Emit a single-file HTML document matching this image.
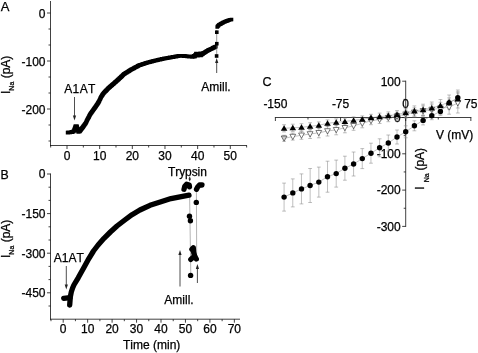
<!DOCTYPE html>
<html><head><meta charset="utf-8"><title>Figure</title>
<style>
html,body{margin:0;padding:0;background:#fff;}
svg{display:block;font-family:"Liberation Sans", sans-serif;fill:#000;font-kerning:none;}
text{stroke:#000;stroke-width:0.25px;}
</style></head><body>
<svg width="478" height="353" viewBox="0 0 478 353">
<rect width="478" height="353" fill="#fff" stroke="none"/>
<line x1="50.5" y1="1" x2="50.5" y2="146.0" stroke="#111" stroke-width="0.8" />
<line x1="50.0" y1="145.5" x2="247" y2="145.5" stroke="#111" stroke-width="0.8" />
<line x1="47.0" y1="13.0" x2="50.5" y2="13.0" stroke="#111" stroke-width="0.8" />
<text x="45.5" y="17.8" font-size="12" text-anchor="end" >0</text>
<line x1="47.0" y1="61.0" x2="50.5" y2="61.0" stroke="#111" stroke-width="0.8" />
<text x="45.5" y="65.8" font-size="12" text-anchor="end" >-100</text>
<line x1="47.0" y1="109.0" x2="50.5" y2="109.0" stroke="#111" stroke-width="0.8" />
<text x="45.5" y="113.8" font-size="12" text-anchor="end" >-200</text>
<line x1="48.5" y1="29" x2="50.5" y2="29" stroke="#111" stroke-width="0.8" />
<line x1="48.5" y1="45" x2="50.5" y2="45" stroke="#111" stroke-width="0.8" />
<line x1="48.5" y1="77" x2="50.5" y2="77" stroke="#111" stroke-width="0.8" />
<line x1="48.5" y1="93" x2="50.5" y2="93" stroke="#111" stroke-width="0.8" />
<line x1="48.5" y1="125" x2="50.5" y2="125" stroke="#111" stroke-width="0.8" />
<line x1="48.5" y1="141" x2="50.5" y2="141" stroke="#111" stroke-width="0.8" />
<line x1="67.0" y1="145.5" x2="67.0" y2="149.0" stroke="#111" stroke-width="0.8" />
<text x="67.0" y="160.0" font-size="12" text-anchor="middle" >0</text>
<line x1="99.66" y1="145.5" x2="99.66" y2="149.0" stroke="#111" stroke-width="0.8" />
<text x="99.66" y="160.0" font-size="12" text-anchor="middle" >10</text>
<line x1="132.32" y1="145.5" x2="132.32" y2="149.0" stroke="#111" stroke-width="0.8" />
<text x="132.32" y="160.0" font-size="12" text-anchor="middle" >20</text>
<line x1="164.98000000000002" y1="145.5" x2="164.98000000000002" y2="149.0" stroke="#111" stroke-width="0.8" />
<text x="164.98000000000002" y="160.0" font-size="12" text-anchor="middle" >30</text>
<line x1="197.64" y1="145.5" x2="197.64" y2="149.0" stroke="#111" stroke-width="0.8" />
<text x="197.64" y="160.0" font-size="12" text-anchor="middle" >40</text>
<line x1="230.3" y1="145.5" x2="230.3" y2="149.0" stroke="#111" stroke-width="0.8" />
<text x="230.3" y="160.0" font-size="12" text-anchor="middle" >50</text>
<line x1="50.67" y1="145.5" x2="50.67" y2="147.5" stroke="#111" stroke-width="0.8" />
<line x1="83.33" y1="145.5" x2="83.33" y2="147.5" stroke="#111" stroke-width="0.8" />
<line x1="115.99000000000001" y1="145.5" x2="115.99000000000001" y2="147.5" stroke="#111" stroke-width="0.8" />
<line x1="148.65" y1="145.5" x2="148.65" y2="147.5" stroke="#111" stroke-width="0.8" />
<line x1="181.31" y1="145.5" x2="181.31" y2="147.5" stroke="#111" stroke-width="0.8" />
<line x1="213.97" y1="145.5" x2="213.97" y2="147.5" stroke="#111" stroke-width="0.8" />
<line x1="246.63" y1="145.5" x2="246.63" y2="147.5" stroke="#111" stroke-width="0.8" />
<text x="0.8" y="10.6" font-size="13" text-anchor="start" >A</text>
<text transform="translate(10,94) rotate(-90)" font-size="12">I<tspan font-size="7" dy="3.5">Na</tspan><tspan dy="-3.5" font-size="12"> (pA)</tspan></text>
<path d="M65.8 130.7h3.8v3.8h-3.8zM66.4 130.6h3.8v3.8h-3.8zM67.0 130.5h3.8v3.8h-3.8zM67.6 130.4h3.8v3.8h-3.8zM68.3 130.4h3.8v3.8h-3.8zM68.9 130.3h3.8v3.8h-3.8zM69.5 130.2h3.8v3.8h-3.8zM70.1 130.1h3.8v3.8h-3.8zM70.1 130.1h3.8v3.8h-3.8zM70.7 129.9h3.8v3.8h-3.8zM71.3 129.6h3.8v3.8h-3.8zM71.9 129.4h3.8v3.8h-3.8zM71.9 129.4h3.8v3.8h-3.8zM72.1 128.8h3.8v3.8h-3.8zM72.3 128.1h3.8v3.8h-3.8zM72.5 127.5h3.8v3.8h-3.8zM72.8 126.8h3.8v3.8h-3.8zM73.0 126.2h3.8v3.8h-3.8zM73.2 125.6h3.8v3.8h-3.8zM73.4 124.9h3.8v3.8h-3.8zM73.6 124.3h3.8v3.8h-3.8zM73.6 124.3h3.8v3.8h-3.8zM74.2 124.3h3.8v3.8h-3.8zM74.9 124.3h3.8v3.8h-3.8zM74.9 124.3h3.8v3.8h-3.8zM75.1 124.9h3.8v3.8h-3.8zM75.2 125.5h3.8v3.8h-3.8zM75.4 126.2h3.8v3.8h-3.8zM75.6 126.8h3.8v3.8h-3.8zM75.7 127.4h3.8v3.8h-3.8zM75.9 128.0h3.8v3.8h-3.8zM76.1 128.7h3.8v3.8h-3.8zM76.2 129.3h3.8v3.8h-3.8zM76.4 129.9h3.8v3.8h-3.8zM76.4 129.9h3.8v3.8h-3.8zM77.0 129.8h3.8v3.8h-3.8zM77.6 129.6h3.8v3.8h-3.8zM77.6 129.6h3.8v3.8h-3.8zM78.0 129.1h3.8v3.8h-3.8zM78.4 128.6h3.8v3.8h-3.8zM78.8 128.1h3.8v3.8h-3.8zM79.1 127.6h3.8v3.8h-3.8zM79.5 127.1h3.8v3.8h-3.8zM79.9 126.6h3.8v3.8h-3.8zM80.3 126.1h3.8v3.8h-3.8zM80.7 125.6h3.8v3.8h-3.8zM80.7 125.6h3.8v3.8h-3.8zM81.1 125.1h3.8v3.8h-3.8zM81.4 124.6h3.8v3.8h-3.8zM81.8 124.1h3.8v3.8h-3.8zM82.2 123.5h3.8v3.8h-3.8zM82.6 123.0h3.8v3.8h-3.8zM82.9 122.5h3.8v3.8h-3.8zM83.3 122.0h3.8v3.8h-3.8zM83.7 121.5h3.8v3.8h-3.8zM83.7 121.5h3.8v3.8h-3.8zM84.0 120.9h3.8v3.8h-3.8zM84.3 120.3h3.8v3.8h-3.8zM84.6 119.7h3.8v3.8h-3.8zM84.8 119.1h3.8v3.8h-3.8zM85.1 118.5h3.8v3.8h-3.8zM85.4 117.9h3.8v3.8h-3.8zM85.7 117.3h3.8v3.8h-3.8zM85.7 117.3h3.8v3.8h-3.8zM86.0 116.8h3.8v3.8h-3.8zM86.3 116.2h3.8v3.8h-3.8zM86.6 115.7h3.8v3.8h-3.8zM86.9 115.2h3.8v3.8h-3.8zM87.2 114.6h3.8v3.8h-3.8zM87.4 114.1h3.8v3.8h-3.8zM87.7 113.5h3.8v3.8h-3.8zM88.0 113.0h3.8v3.8h-3.8zM88.3 112.5h3.8v3.8h-3.8zM88.6 111.9h3.8v3.8h-3.8zM88.9 111.4h3.8v3.8h-3.8zM88.9 111.4h3.8v3.8h-3.8zM89.3 110.9h3.8v3.8h-3.8zM89.7 110.4h3.8v3.8h-3.8zM90.0 109.9h3.8v3.8h-3.8zM90.4 109.4h3.8v3.8h-3.8zM90.8 108.9h3.8v3.8h-3.8zM91.2 108.3h3.8v3.8h-3.8zM91.6 107.8h3.8v3.8h-3.8zM92.0 107.3h3.8v3.8h-3.8zM92.3 106.8h3.8v3.8h-3.8zM92.7 106.3h3.8v3.8h-3.8zM93.1 105.8h3.8v3.8h-3.8zM93.1 105.8h3.8v3.8h-3.8zM93.4 105.3h3.8v3.8h-3.8zM93.8 104.8h3.8v3.8h-3.8zM94.1 104.2h3.8v3.8h-3.8zM94.4 103.7h3.8v3.8h-3.8zM94.8 103.2h3.8v3.8h-3.8zM95.1 102.7h3.8v3.8h-3.8zM95.5 102.2h3.8v3.8h-3.8zM95.8 101.7h3.8v3.8h-3.8zM96.1 101.1h3.8v3.8h-3.8zM96.5 100.6h3.8v3.8h-3.8zM96.8 100.1h3.8v3.8h-3.8zM96.8 100.1h3.8v3.8h-3.8zM97.1 99.5h3.8v3.8h-3.8zM97.4 98.9h3.8v3.8h-3.8zM97.6 98.4h3.8v3.8h-3.8zM97.9 97.8h3.8v3.8h-3.8zM98.2 97.2h3.8v3.8h-3.8zM98.5 96.6h3.8v3.8h-3.8zM98.7 96.1h3.8v3.8h-3.8zM99.0 95.5h3.8v3.8h-3.8zM99.3 94.9h3.8v3.8h-3.8zM99.3 94.9h3.8v3.8h-3.8zM99.7 94.3h3.8v3.8h-3.8zM100.1 93.7h3.8v3.8h-3.8zM100.4 93.1h3.8v3.8h-3.8zM100.8 92.6h3.8v3.8h-3.8zM101.2 92.0h3.8v3.8h-3.8zM101.6 91.4h3.8v3.8h-3.8zM101.6 91.4h3.8v3.8h-3.8zM102.0 90.9h3.8v3.8h-3.8zM102.5 90.5h3.8v3.8h-3.8zM102.9 90.0h3.8v3.8h-3.8zM103.4 89.5h3.8v3.8h-3.8zM103.8 89.1h3.8v3.8h-3.8zM104.3 88.6h3.8v3.8h-3.8zM104.7 88.2h3.8v3.8h-3.8zM105.2 87.7h3.8v3.8h-3.8zM105.6 87.2h3.8v3.8h-3.8zM106.1 86.8h3.8v3.8h-3.8zM106.5 86.3h3.8v3.8h-3.8zM106.5 86.3h3.8v3.8h-3.8zM107.0 85.9h3.8v3.8h-3.8zM107.4 85.5h3.8v3.8h-3.8zM107.9 85.1h3.8v3.8h-3.8zM108.3 84.7h3.8v3.8h-3.8zM108.8 84.3h3.8v3.8h-3.8zM109.3 83.9h3.8v3.8h-3.8zM109.7 83.5h3.8v3.8h-3.8zM110.2 83.1h3.8v3.8h-3.8zM110.6 82.7h3.8v3.8h-3.8zM111.1 82.3h3.8v3.8h-3.8zM111.1 82.3h3.8v3.8h-3.8zM111.6 81.9h3.8v3.8h-3.8zM112.1 81.4h3.8v3.8h-3.8zM112.6 81.0h3.8v3.8h-3.8zM113.1 80.5h3.8v3.8h-3.8zM113.6 80.1h3.8v3.8h-3.8zM114.1 79.7h3.8v3.8h-3.8zM114.6 79.2h3.8v3.8h-3.8zM115.1 78.8h3.8v3.8h-3.8zM115.1 78.8h3.8v3.8h-3.8zM115.5 78.4h3.8v3.8h-3.8zM116.0 78.0h3.8v3.8h-3.8zM116.4 77.6h3.8v3.8h-3.8zM116.9 77.2h3.8v3.8h-3.8zM117.3 76.7h3.8v3.8h-3.8zM117.8 76.3h3.8v3.8h-3.8zM118.2 75.9h3.8v3.8h-3.8zM118.7 75.5h3.8v3.8h-3.8zM119.1 75.1h3.8v3.8h-3.8zM119.1 75.1h3.8v3.8h-3.8zM119.6 74.6h3.8v3.8h-3.8zM120.1 74.2h3.8v3.8h-3.8zM120.5 73.7h3.8v3.8h-3.8zM121.0 73.2h3.8v3.8h-3.8zM121.5 72.8h3.8v3.8h-3.8zM122.0 72.3h3.8v3.8h-3.8zM122.0 72.3h3.8v3.8h-3.8zM122.5 72.0h3.8v3.8h-3.8zM123.0 71.7h3.8v3.8h-3.8zM123.5 71.3h3.8v3.8h-3.8zM124.0 71.0h3.8v3.8h-3.8zM124.5 70.7h3.8v3.8h-3.8zM125.0 70.4h3.8v3.8h-3.8zM125.6 70.0h3.8v3.8h-3.8zM126.1 69.7h3.8v3.8h-3.8zM126.6 69.4h3.8v3.8h-3.8zM127.1 69.1h3.8v3.8h-3.8zM127.6 68.7h3.8v3.8h-3.8zM128.1 68.4h3.8v3.8h-3.8zM128.6 68.1h3.8v3.8h-3.8zM128.6 68.1h3.8v3.8h-3.8zM129.1 67.8h3.8v3.8h-3.8zM129.7 67.5h3.8v3.8h-3.8zM130.2 67.2h3.8v3.8h-3.8zM130.7 66.9h3.8v3.8h-3.8zM131.3 66.7h3.8v3.8h-3.8zM131.8 66.4h3.8v3.8h-3.8zM132.3 66.1h3.8v3.8h-3.8zM132.8 65.8h3.8v3.8h-3.8zM133.4 65.5h3.8v3.8h-3.8zM133.9 65.2h3.8v3.8h-3.8zM134.4 64.9h3.8v3.8h-3.8zM135.0 64.7h3.8v3.8h-3.8zM135.5 64.4h3.8v3.8h-3.8zM136.0 64.1h3.8v3.8h-3.8zM136.6 63.8h3.8v3.8h-3.8zM137.1 63.5h3.8v3.8h-3.8zM137.1 63.5h3.8v3.8h-3.8zM137.7 63.3h3.8v3.8h-3.8zM138.3 63.1h3.8v3.8h-3.8zM138.9 62.9h3.8v3.8h-3.8zM139.5 62.7h3.8v3.8h-3.8zM140.1 62.5h3.8v3.8h-3.8zM140.7 62.3h3.8v3.8h-3.8zM141.3 62.1h3.8v3.8h-3.8zM141.9 61.9h3.8v3.8h-3.8zM142.5 61.7h3.8v3.8h-3.8zM143.1 61.5h3.8v3.8h-3.8zM143.7 61.3h3.8v3.8h-3.8zM144.3 61.1h3.8v3.8h-3.8zM144.9 60.9h3.8v3.8h-3.8zM145.5 60.7h3.8v3.8h-3.8zM145.5 60.7h3.8v3.8h-3.8zM146.1 60.5h3.8v3.8h-3.8zM146.7 60.4h3.8v3.8h-3.8zM147.3 60.2h3.8v3.8h-3.8zM148.0 60.1h3.8v3.8h-3.8zM148.6 59.9h3.8v3.8h-3.8zM149.2 59.8h3.8v3.8h-3.8zM149.8 59.6h3.8v3.8h-3.8zM150.4 59.4h3.8v3.8h-3.8zM151.0 59.3h3.8v3.8h-3.8zM151.6 59.1h3.8v3.8h-3.8zM152.3 59.0h3.8v3.8h-3.8zM152.9 58.8h3.8v3.8h-3.8zM153.5 58.7h3.8v3.8h-3.8zM154.1 58.5h3.8v3.8h-3.8zM154.1 58.5h3.8v3.8h-3.8zM154.7 58.4h3.8v3.8h-3.8zM155.3 58.2h3.8v3.8h-3.8zM155.9 58.1h3.8v3.8h-3.8zM156.5 58.0h3.8v3.8h-3.8zM157.1 57.8h3.8v3.8h-3.8zM157.7 57.7h3.8v3.8h-3.8zM158.3 57.6h3.8v3.8h-3.8zM158.9 57.4h3.8v3.8h-3.8zM159.5 57.3h3.8v3.8h-3.8zM160.1 57.1h3.8v3.8h-3.8zM160.7 57.0h3.8v3.8h-3.8zM161.3 56.9h3.8v3.8h-3.8zM161.9 56.7h3.8v3.8h-3.8zM162.5 56.6h3.8v3.8h-3.8zM162.5 56.6h3.8v3.8h-3.8zM163.1 56.5h3.8v3.8h-3.8zM163.7 56.4h3.8v3.8h-3.8zM164.3 56.3h3.8v3.8h-3.8zM165.0 56.2h3.8v3.8h-3.8zM165.6 56.1h3.8v3.8h-3.8zM166.2 56.0h3.8v3.8h-3.8zM166.8 55.9h3.8v3.8h-3.8zM167.4 55.7h3.8v3.8h-3.8zM168.0 55.6h3.8v3.8h-3.8zM168.6 55.5h3.8v3.8h-3.8zM169.3 55.4h3.8v3.8h-3.8zM169.9 55.3h3.8v3.8h-3.8zM170.5 55.2h3.8v3.8h-3.8zM171.1 55.1h3.8v3.8h-3.8zM171.1 55.1h3.8v3.8h-3.8zM171.7 55.0h3.8v3.8h-3.8zM172.3 54.9h3.8v3.8h-3.8zM172.9 54.8h3.8v3.8h-3.8zM173.5 54.7h3.8v3.8h-3.8zM174.1 54.6h3.8v3.8h-3.8zM174.8 54.4h3.8v3.8h-3.8zM175.4 54.3h3.8v3.8h-3.8zM176.0 54.2h3.8v3.8h-3.8zM176.6 54.1h3.8v3.8h-3.8zM177.2 54.0h3.8v3.8h-3.8zM177.8 53.9h3.8v3.8h-3.8zM177.8 53.9h3.8v3.8h-3.8zM178.4 53.9h3.8v3.8h-3.8zM179.1 53.9h3.8v3.8h-3.8zM179.7 54.0h3.8v3.8h-3.8zM180.3 54.0h3.8v3.8h-3.8zM181.0 54.0h3.8v3.8h-3.8zM181.6 54.1h3.8v3.8h-3.8zM182.3 54.1h3.8v3.8h-3.8zM182.9 54.1h3.8v3.8h-3.8zM182.9 54.1h3.8v3.8h-3.8zM183.5 54.2h3.8v3.8h-3.8zM184.1 54.2h3.8v3.8h-3.8zM184.7 54.3h3.8v3.8h-3.8zM185.3 54.4h3.8v3.8h-3.8zM185.9 54.4h3.8v3.8h-3.8zM186.5 54.5h3.8v3.8h-3.8zM187.1 54.6h3.8v3.8h-3.8zM187.7 54.6h3.8v3.8h-3.8zM188.3 54.7h3.8v3.8h-3.8zM188.9 54.8h3.8v3.8h-3.8zM189.5 54.8h3.8v3.8h-3.8zM190.1 54.9h3.8v3.8h-3.8zM190.1 54.9h3.8v3.8h-3.8zM190.7 54.6h3.8v3.8h-3.8zM191.3 54.4h3.8v3.8h-3.8zM191.9 54.1h3.8v3.8h-3.8zM192.5 53.9h3.8v3.8h-3.8zM193.1 53.6h3.8v3.8h-3.8zM193.1 53.6h3.8v3.8h-3.8zM193.6 53.2h3.8v3.8h-3.8zM194.1 52.9h3.8v3.8h-3.8zM194.6 52.5h3.8v3.8h-3.8zM195.1 52.1h3.8v3.8h-3.8zM195.1 52.1h3.8v3.8h-3.8zM195.7 52.1h3.8v3.8h-3.8zM196.3 52.1h3.8v3.8h-3.8zM197.0 52.2h3.8v3.8h-3.8zM197.6 52.2h3.8v3.8h-3.8zM198.2 52.2h3.8v3.8h-3.8zM198.8 52.3h3.8v3.8h-3.8zM199.5 52.3h3.8v3.8h-3.8zM200.1 52.3h3.8v3.8h-3.8zM200.1 52.3h3.8v3.8h-3.8zM200.6 52.0h3.8v3.8h-3.8zM201.2 51.6h3.8v3.8h-3.8zM201.7 51.3h3.8v3.8h-3.8zM202.2 50.9h3.8v3.8h-3.8zM202.8 50.6h3.8v3.8h-3.8zM203.3 50.3h3.8v3.8h-3.8zM203.8 49.9h3.8v3.8h-3.8zM204.3 49.6h3.8v3.8h-3.8zM204.9 49.2h3.8v3.8h-3.8zM205.4 48.9h3.8v3.8h-3.8zM205.4 48.9h3.8v3.8h-3.8zM206.0 48.6h3.8v3.8h-3.8zM206.5 48.3h3.8v3.8h-3.8zM207.1 48.1h3.8v3.8h-3.8zM207.7 47.8h3.8v3.8h-3.8zM208.2 47.5h3.8v3.8h-3.8zM208.8 47.2h3.8v3.8h-3.8zM209.4 47.0h3.8v3.8h-3.8zM209.9 46.7h3.8v3.8h-3.8zM210.5 46.4h3.8v3.8h-3.8zM210.5 46.4h3.8v3.8h-3.8zM211.0 46.1h3.8v3.8h-3.8zM211.6 45.8h3.8v3.8h-3.8zM212.2 45.6h3.8v3.8h-3.8zM212.7 45.3h3.8v3.8h-3.8zM213.2 45.0h3.8v3.8h-3.8zM213.8 44.7h3.8v3.8h-3.8z" fill="#000"/>
<path d="M193.0 54.8h3.6v3.6h-3.6zM193.2 54.2h3.6v3.6h-3.6zM193.5 53.6h3.6v3.6h-3.6zM193.7 53.0h3.6v3.6h-3.6zM194.0 52.4h3.6v3.6h-3.6zM194.2 51.8h3.6v3.6h-3.6zM194.2 51.8h3.6v3.6h-3.6zM194.7 52.4h3.6v3.6h-3.6zM195.2 52.9h3.6v3.6h-3.6zM195.7 53.5h3.6v3.6h-3.6zM196.2 54.0h3.6v3.6h-3.6zM196.2 54.0h3.6v3.6h-3.6zM196.6 53.5h3.6v3.6h-3.6zM197.0 53.0h3.6v3.6h-3.6zM197.4 52.6h3.6v3.6h-3.6zM197.8 52.1h3.6v3.6h-3.6zM198.2 51.6h3.6v3.6h-3.6zM198.2 51.6h3.6v3.6h-3.6zM198.5 52.3h3.6v3.6h-3.6zM198.9 53.0h3.6v3.6h-3.6zM199.2 53.7h3.6v3.6h-3.6zM199.2 53.7h3.6v3.6h-3.6zM199.6 53.2h3.6v3.6h-3.6zM200.0 52.8h3.6v3.6h-3.6zM200.4 52.4h3.6v3.6h-3.6zM200.9 51.9h3.6v3.6h-3.6zM201.3 51.5h3.6v3.6h-3.6zM201.7 51.0h3.6v3.6h-3.6z" fill="#000"/>
<line x1="216.7" y1="30" x2="216.7" y2="57" stroke="#555" stroke-width="0.6" />
<rect x="215.0" y="41.900000000000006" width="3.6" height="3.6" fill="#000"/>
<rect x="215.0" y="30.400000000000002" width="3.6" height="3.6" fill="#000"/>
<rect x="214.79999999999998" y="54.2" width="3.6" height="3.6" fill="#000"/>
<path d="M215.4 25.2h3.6v3.6h-3.6zM215.8 24.6h3.6v3.6h-3.6zM216.3 24.1h3.6v3.6h-3.6zM216.8 23.6h3.6v3.6h-3.6zM217.2 23.0h3.6v3.6h-3.6zM217.2 23.0h3.6v3.6h-3.6zM217.8 22.7h3.6v3.6h-3.6zM218.4 22.4h3.6v3.6h-3.6zM218.9 22.1h3.6v3.6h-3.6zM219.5 21.8h3.6v3.6h-3.6zM220.1 21.4h3.6v3.6h-3.6zM220.7 21.1h3.6v3.6h-3.6zM221.2 20.8h3.6v3.6h-3.6zM221.8 20.5h3.6v3.6h-3.6zM222.4 20.2h3.6v3.6h-3.6zM222.4 20.2h3.6v3.6h-3.6zM223.0 20.0h3.6v3.6h-3.6zM223.5 19.8h3.6v3.6h-3.6zM224.1 19.5h3.6v3.6h-3.6zM224.7 19.3h3.6v3.6h-3.6zM225.2 19.1h3.6v3.6h-3.6zM225.8 18.9h3.6v3.6h-3.6zM226.4 18.6h3.6v3.6h-3.6zM226.9 18.4h3.6v3.6h-3.6zM227.5 18.2h3.6v3.6h-3.6zM227.5 18.2h3.6v3.6h-3.6zM228.2 18.0h3.6v3.6h-3.6zM229.0 17.9h3.6v3.6h-3.6zM229.7 17.7h3.6v3.6h-3.6z" fill="#000"/>
<text x="64.2" y="92.7" font-size="12" text-anchor="start" letter-spacing="0.4">A1AT</text>
<line x1="74.5" y1="97" x2="74.5" y2="117.5" stroke="#222" stroke-width="0.8" />
<polygon points="74.5,120.5 72.9,115.5 76.1,115.5" fill="#222"/>
<line x1="216.7" y1="73" x2="216.7" y2="61.0" stroke="#222" stroke-width="0.8" />
<polygon points="216.7,58 215.1,63 218.29999999999998,63" fill="#222"/>
<text x="201.3" y="90.6" font-size="12" text-anchor="start" >Amill.</text>
<line x1="50.5" y1="173.5" x2="50.5" y2="319.7" stroke="#111" stroke-width="0.8" />
<line x1="50.0" y1="319.2" x2="240" y2="319.2" stroke="#111" stroke-width="0.8" />
<line x1="47.0" y1="174.0" x2="50.5" y2="174.0" stroke="#111" stroke-width="0.8" />
<text x="45.5" y="178.3" font-size="12" text-anchor="end" >0</text>
<line x1="47.0" y1="213.6" x2="50.5" y2="213.6" stroke="#111" stroke-width="0.8" />
<text x="45.5" y="217.9" font-size="12" text-anchor="end" >-150</text>
<line x1="47.0" y1="253.2" x2="50.5" y2="253.2" stroke="#111" stroke-width="0.8" />
<text x="45.5" y="257.5" font-size="12" text-anchor="end" >-300</text>
<line x1="47.0" y1="292.8" x2="50.5" y2="292.8" stroke="#111" stroke-width="0.8" />
<text x="45.5" y="297.1" font-size="12" text-anchor="end" >-450</text>
<line x1="48.5" y1="187.2" x2="50.5" y2="187.2" stroke="#111" stroke-width="0.8" />
<line x1="48.5" y1="200.4" x2="50.5" y2="200.4" stroke="#111" stroke-width="0.8" />
<line x1="48.5" y1="226.8" x2="50.5" y2="226.8" stroke="#111" stroke-width="0.8" />
<line x1="48.5" y1="240.0" x2="50.5" y2="240.0" stroke="#111" stroke-width="0.8" />
<line x1="48.5" y1="266.4" x2="50.5" y2="266.4" stroke="#111" stroke-width="0.8" />
<line x1="48.5" y1="279.6" x2="50.5" y2="279.6" stroke="#111" stroke-width="0.8" />
<line x1="48.5" y1="306.0" x2="50.5" y2="306.0" stroke="#111" stroke-width="0.8" />
<line x1="63.2" y1="319.2" x2="63.2" y2="322.7" stroke="#111" stroke-width="0.8" />
<text x="63.2" y="333.2" font-size="12" text-anchor="middle" >0</text>
<line x1="87.65" y1="319.2" x2="87.65" y2="322.7" stroke="#111" stroke-width="0.8" />
<text x="87.65" y="333.2" font-size="12" text-anchor="middle" >10</text>
<line x1="112.1" y1="319.2" x2="112.1" y2="322.7" stroke="#111" stroke-width="0.8" />
<text x="112.1" y="333.2" font-size="12" text-anchor="middle" >20</text>
<line x1="136.55" y1="319.2" x2="136.55" y2="322.7" stroke="#111" stroke-width="0.8" />
<text x="136.55" y="333.2" font-size="12" text-anchor="middle" >30</text>
<line x1="161.0" y1="319.2" x2="161.0" y2="322.7" stroke="#111" stroke-width="0.8" />
<text x="161.0" y="333.2" font-size="12" text-anchor="middle" >40</text>
<line x1="185.45" y1="319.2" x2="185.45" y2="322.7" stroke="#111" stroke-width="0.8" />
<text x="185.45" y="333.2" font-size="12" text-anchor="middle" >50</text>
<line x1="209.89999999999998" y1="319.2" x2="209.89999999999998" y2="322.7" stroke="#111" stroke-width="0.8" />
<text x="209.89999999999998" y="333.2" font-size="12" text-anchor="middle" >60</text>
<line x1="234.34999999999997" y1="319.2" x2="234.34999999999997" y2="322.7" stroke="#111" stroke-width="0.8" />
<text x="234.34999999999997" y="333.2" font-size="12" text-anchor="middle" >70</text>
<line x1="50.975" y1="319.2" x2="50.975" y2="321.2" stroke="#111" stroke-width="0.8" />
<line x1="75.425" y1="319.2" x2="75.425" y2="321.2" stroke="#111" stroke-width="0.8" />
<line x1="99.875" y1="319.2" x2="99.875" y2="321.2" stroke="#111" stroke-width="0.8" />
<line x1="124.32499999999999" y1="319.2" x2="124.32499999999999" y2="321.2" stroke="#111" stroke-width="0.8" />
<line x1="148.77499999999998" y1="319.2" x2="148.77499999999998" y2="321.2" stroke="#111" stroke-width="0.8" />
<line x1="173.225" y1="319.2" x2="173.225" y2="321.2" stroke="#111" stroke-width="0.8" />
<line x1="197.675" y1="319.2" x2="197.675" y2="321.2" stroke="#111" stroke-width="0.8" />
<line x1="222.125" y1="319.2" x2="222.125" y2="321.2" stroke="#111" stroke-width="0.8" />
<text x="0.6" y="179.4" font-size="12.3" text-anchor="start" >B</text>
<text transform="translate(10,258) rotate(-90)" font-size="12">I<tspan font-size="7" dy="3.5">Na</tspan><tspan dy="-3.5" font-size="12"> (pA)</tspan></text>
<text x="123" y="349" font-size="12" text-anchor="start" >Time (min)</text>
<line x1="189.6" y1="195" x2="190.8" y2="276" stroke="#444" stroke-width="0.4" />
<line x1="196.4" y1="188" x2="196.7" y2="260" stroke="#444" stroke-width="0.4" />
<polyline points="63.7,298.3 70.0,297.6" fill="none" stroke="#000" stroke-width="5.3" stroke-linecap="round" stroke-linejoin="round"/>
<polyline points="69.7,305.0 70.3,297.0 71.3,292.0 72.6,288.0 73.9,285.0 78.2,277.8 84.2,267.0 89.0,258.3 93.5,251.0 98.1,245.0 104.0,238.3 110.4,232.0 117.0,226.0 124.8,220.0 132.0,214.7 139.9,210.0 150.0,205.3 161.0,201.8 171.0,198.6 180.0,196.8 189.0,195.2" fill="none" stroke="#000" stroke-width="5.3" stroke-linecap="round" stroke-linejoin="round"/>
<polyline points="184.0,189.3 184.8,186.2 186.6,184.2 189.2,185.0 189.5,186.8" fill="none" stroke="#000" stroke-width="5.3" stroke-linecap="round" stroke-linejoin="round"/>
<polyline points="196.5,189.3 197.7,186.9 199.5,184.9 202.0,185.0" fill="none" stroke="#000" stroke-width="5.3" stroke-linecap="round" stroke-linejoin="round"/>
<circle cx="196.3" cy="202.4" r="2.7" fill="#000" stroke="none" stroke-width="0"/>
<circle cx="189.5" cy="216.2" r="2.7" fill="#000" stroke="none" stroke-width="0"/>
<circle cx="190.4" cy="220.8" r="2.7" fill="#000" stroke="none" stroke-width="0"/>
<polyline points="191.9,249.3 193.3,247.8 193.7,252.5 194.6,256.0 190.8,259.4" fill="none" stroke="#000" stroke-width="5.3" stroke-linecap="round" stroke-linejoin="round"/>
<polyline points="194.6,256.0 196.3,259.0" fill="none" stroke="#000" stroke-width="5.3" stroke-linecap="round" stroke-linejoin="round"/>
<circle cx="190.6" cy="275.4" r="2.7" fill="#000" stroke="none" stroke-width="0"/>
<text x="168.1" y="175.9" font-size="12" text-anchor="start" letter-spacing="-0.1">Trypsin</text>
<line x1="189.7" y1="176.8" x2="189.7" y2="179.79999999999998" stroke="#222" stroke-width="1" />
<polygon points="189.7,181.6 188.39999999999998,178.6 191.0,178.6" fill="#222"/>
<line x1="180" y1="286.5" x2="180" y2="253.0" stroke="#222" stroke-width="0.8" />
<polygon points="180,250 178.4,255 181.6,255" fill="#222"/>
<line x1="197.4" y1="283" x2="197.4" y2="267.0" stroke="#222" stroke-width="0.8" />
<polygon points="197.4,264 195.8,269 199.0,269" fill="#222"/>
<text x="164.3" y="304.4" font-size="12" text-anchor="start" >Amill.</text>
<text x="53.8" y="261.7" font-size="12" text-anchor="start" >A1AT</text>
<line x1="66.3" y1="266" x2="66.3" y2="286.5" stroke="#222" stroke-width="0.8" />
<polygon points="66.3,289.5 64.7,284.5 67.89999999999999,284.5" fill="#222"/>
<line x1="274.895" y1="117.5" x2="471.35249999999996" y2="117.5" stroke="#111" stroke-width="0.8" />
<line x1="405.7" y1="80.7" x2="405.7" y2="226.89999999999998" stroke="#111" stroke-width="0.8" />
<line x1="275.395" y1="117.5" x2="275.395" y2="121.0" stroke="#111" stroke-width="0.8" />
<text x="275.395" y="108.0" font-size="12" text-anchor="middle" >-150</text>
<line x1="340.5475" y1="117.5" x2="340.5475" y2="121.0" stroke="#111" stroke-width="0.8" />
<text x="340.5475" y="108.0" font-size="12" text-anchor="middle" >-75</text>
<line x1="405.7" y1="117.5" x2="405.7" y2="121.0" stroke="#111" stroke-width="0.8" />
<text x="405.7" y="108.0" font-size="12" text-anchor="middle" >0</text>
<line x1="470.85249999999996" y1="117.5" x2="470.85249999999996" y2="121.0" stroke="#111" stroke-width="0.8" />
<text x="470.85249999999996" y="108.0" font-size="12" text-anchor="middle" >75</text>
<line x1="307.97125" y1="117.5" x2="307.97125" y2="119.5" stroke="#111" stroke-width="0.8" />
<line x1="373.12375" y1="117.5" x2="373.12375" y2="119.5" stroke="#111" stroke-width="0.8" />
<line x1="438.27625" y1="117.5" x2="438.27625" y2="119.5" stroke="#111" stroke-width="0.8" />
<line x1="402.2" y1="81.2" x2="405.7" y2="81.2" stroke="#111" stroke-width="0.8" />
<text x="400.7" y="85.5" font-size="12" text-anchor="end" >100</text>
<line x1="402.2" y1="117.5" x2="405.7" y2="117.5" stroke="#111" stroke-width="0.8" />
<text x="400.7" y="121.8" font-size="12" text-anchor="end" >0</text>
<line x1="402.2" y1="153.8" x2="405.7" y2="153.8" stroke="#111" stroke-width="0.8" />
<text x="400.7" y="158.10000000000002" font-size="12" text-anchor="end" >-100</text>
<line x1="402.2" y1="190.1" x2="405.7" y2="190.1" stroke="#111" stroke-width="0.8" />
<text x="400.7" y="194.4" font-size="12" text-anchor="end" >-200</text>
<line x1="402.2" y1="226.39999999999998" x2="405.7" y2="226.39999999999998" stroke="#111" stroke-width="0.8" />
<text x="400.7" y="230.7" font-size="12" text-anchor="end" >-300</text>
<line x1="403.7" y1="99.35" x2="405.7" y2="99.35" stroke="#111" stroke-width="0.8" />
<line x1="403.7" y1="135.65" x2="405.7" y2="135.65" stroke="#111" stroke-width="0.8" />
<line x1="403.7" y1="171.95" x2="405.7" y2="171.95" stroke="#111" stroke-width="0.8" />
<line x1="403.7" y1="208.25" x2="405.7" y2="208.25" stroke="#111" stroke-width="0.8" />
<text x="262.5" y="86" font-size="12.5" text-anchor="start" >C</text>
<text x="436" y="138.7" font-size="12" text-anchor="start" >V (mV)</text>
<text transform="translate(424.3,189.7) rotate(-90)" font-size="12">I<tspan font-size="7" dy="4.5" dx="4">Na</tspan><tspan dy="-4.5" dx="-0.5" font-size="12"> (pA)</tspan></text>
<polyline points="284.1,197.1 292.8,192.9 301.5,188.9 310.1,185.5 318.8,182.1 327.5,176.7 336.2,173.6 344.9,168.2 353.6,164.0 362.3,158.6 371.0,153.2 379.6,147.8 388.3,143.0 397.0,137.0 405.7,131.8 414.4,125.8 423.1,120.4 431.8,115.7 440.4,111.4 449.1,102.9 457.8,97.8" fill="none" stroke="#777" stroke-width="0.45" stroke-linecap="round" stroke-linejoin="round"/>
<polyline points="284.1,128.3 292.8,127.8 301.5,127.3 310.1,126.3 318.8,125.3 327.5,123.3 336.2,122.3 344.9,121.5 353.6,120.3 362.3,119.3 371.0,117.7 379.6,116.7 388.3,115.7 397.0,114.5 405.7,112.8 414.4,110.9 423.1,109.7 431.8,108.0 440.4,105.5 449.1,102.0 457.8,99.0" fill="none" stroke="#777" stroke-width="0.45" stroke-linecap="round" stroke-linejoin="round"/>
<polyline points="284.1,138.3 292.8,136.6 301.5,135.3 310.1,134.0 318.8,132.8 327.5,131.0 336.2,129.8 344.9,127.8 353.6,125.8 362.3,123.3 371.0,120.7 379.6,119.5 388.3,117.7 397.0,116.2 405.7,114.2 414.4,112.3 423.1,110.8 431.8,109.5 440.4,108.3 449.1,107.2 457.8,103.0" fill="none" stroke="#777" stroke-width="0.45" stroke-linecap="round" stroke-linejoin="round"/>
<line x1="284.082" y1="135.3" x2="284.082" y2="141.3" stroke="#8a8a8a" stroke-width="0.55" />
<line x1="282.182" y1="135.3" x2="285.98199999999997" y2="135.3" stroke="#8a8a8a" stroke-width="0.55" />
<line x1="282.182" y1="141.3" x2="285.98199999999997" y2="141.3" stroke="#8a8a8a" stroke-width="0.55" />
<line x1="292.769" y1="133.1" x2="292.769" y2="140.1" stroke="#8a8a8a" stroke-width="0.55" />
<line x1="290.869" y1="133.1" x2="294.669" y2="133.1" stroke="#8a8a8a" stroke-width="0.55" />
<line x1="290.869" y1="140.1" x2="294.669" y2="140.1" stroke="#8a8a8a" stroke-width="0.55" />
<line x1="301.456" y1="131.3" x2="301.456" y2="139.3" stroke="#8a8a8a" stroke-width="0.55" />
<line x1="299.55600000000004" y1="131.3" x2="303.356" y2="131.3" stroke="#8a8a8a" stroke-width="0.55" />
<line x1="299.55600000000004" y1="139.3" x2="303.356" y2="139.3" stroke="#8a8a8a" stroke-width="0.55" />
<line x1="310.143" y1="129.5" x2="310.143" y2="138.5" stroke="#8a8a8a" stroke-width="0.55" />
<line x1="308.243" y1="129.5" x2="312.04299999999995" y2="129.5" stroke="#8a8a8a" stroke-width="0.55" />
<line x1="308.243" y1="138.5" x2="312.04299999999995" y2="138.5" stroke="#8a8a8a" stroke-width="0.55" />
<line x1="318.83" y1="127.80000000000001" x2="318.83" y2="137.8" stroke="#8a8a8a" stroke-width="0.55" />
<line x1="316.93" y1="127.80000000000001" x2="320.72999999999996" y2="127.80000000000001" stroke="#8a8a8a" stroke-width="0.55" />
<line x1="316.93" y1="137.8" x2="320.72999999999996" y2="137.8" stroke="#8a8a8a" stroke-width="0.55" />
<line x1="327.517" y1="126" x2="327.517" y2="136" stroke="#8a8a8a" stroke-width="0.55" />
<line x1="325.617" y1="126" x2="329.417" y2="126" stroke="#8a8a8a" stroke-width="0.55" />
<line x1="325.617" y1="136" x2="329.417" y2="136" stroke="#8a8a8a" stroke-width="0.55" />
<line x1="336.20399999999995" y1="124.80000000000001" x2="336.20399999999995" y2="134.8" stroke="#8a8a8a" stroke-width="0.55" />
<line x1="334.304" y1="124.80000000000001" x2="338.1039999999999" y2="124.80000000000001" stroke="#8a8a8a" stroke-width="0.55" />
<line x1="334.304" y1="134.8" x2="338.1039999999999" y2="134.8" stroke="#8a8a8a" stroke-width="0.55" />
<line x1="344.89099999999996" y1="122.8" x2="344.89099999999996" y2="132.8" stroke="#8a8a8a" stroke-width="0.55" />
<line x1="342.991" y1="122.8" x2="346.79099999999994" y2="122.8" stroke="#8a8a8a" stroke-width="0.55" />
<line x1="342.991" y1="132.8" x2="346.79099999999994" y2="132.8" stroke="#8a8a8a" stroke-width="0.55" />
<line x1="353.578" y1="121.3" x2="353.578" y2="130.3" stroke="#8a8a8a" stroke-width="0.55" />
<line x1="351.678" y1="121.3" x2="355.47799999999995" y2="121.3" stroke="#8a8a8a" stroke-width="0.55" />
<line x1="351.678" y1="130.3" x2="355.47799999999995" y2="130.3" stroke="#8a8a8a" stroke-width="0.55" />
<line x1="362.265" y1="118.8" x2="362.265" y2="127.8" stroke="#8a8a8a" stroke-width="0.55" />
<line x1="360.365" y1="118.8" x2="364.16499999999996" y2="118.8" stroke="#8a8a8a" stroke-width="0.55" />
<line x1="360.365" y1="127.8" x2="364.16499999999996" y2="127.8" stroke="#8a8a8a" stroke-width="0.55" />
<line x1="370.952" y1="116.7" x2="370.952" y2="124.7" stroke="#8a8a8a" stroke-width="0.55" />
<line x1="369.052" y1="116.7" x2="372.852" y2="116.7" stroke="#8a8a8a" stroke-width="0.55" />
<line x1="369.052" y1="124.7" x2="372.852" y2="124.7" stroke="#8a8a8a" stroke-width="0.55" />
<line x1="379.639" y1="115.5" x2="379.639" y2="123.5" stroke="#8a8a8a" stroke-width="0.55" />
<line x1="377.73900000000003" y1="115.5" x2="381.539" y2="115.5" stroke="#8a8a8a" stroke-width="0.55" />
<line x1="377.73900000000003" y1="123.5" x2="381.539" y2="123.5" stroke="#8a8a8a" stroke-width="0.55" />
<line x1="388.32599999999996" y1="113.7" x2="388.32599999999996" y2="121.7" stroke="#8a8a8a" stroke-width="0.55" />
<line x1="386.426" y1="113.7" x2="390.22599999999994" y2="113.7" stroke="#8a8a8a" stroke-width="0.55" />
<line x1="386.426" y1="121.7" x2="390.22599999999994" y2="121.7" stroke="#8a8a8a" stroke-width="0.55" />
<line x1="397.013" y1="112.2" x2="397.013" y2="120.2" stroke="#8a8a8a" stroke-width="0.55" />
<line x1="395.113" y1="112.2" x2="398.91299999999995" y2="112.2" stroke="#8a8a8a" stroke-width="0.55" />
<line x1="395.113" y1="120.2" x2="398.91299999999995" y2="120.2" stroke="#8a8a8a" stroke-width="0.55" />
<line x1="405.7" y1="110.2" x2="405.7" y2="118.2" stroke="#8a8a8a" stroke-width="0.55" />
<line x1="403.8" y1="110.2" x2="407.59999999999997" y2="110.2" stroke="#8a8a8a" stroke-width="0.55" />
<line x1="403.8" y1="118.2" x2="407.59999999999997" y2="118.2" stroke="#8a8a8a" stroke-width="0.55" />
<line x1="414.387" y1="107.8" x2="414.387" y2="116.8" stroke="#8a8a8a" stroke-width="0.55" />
<line x1="412.487" y1="107.8" x2="416.287" y2="107.8" stroke="#8a8a8a" stroke-width="0.55" />
<line x1="412.487" y1="116.8" x2="416.287" y2="116.8" stroke="#8a8a8a" stroke-width="0.55" />
<line x1="423.074" y1="105.8" x2="423.074" y2="115.8" stroke="#8a8a8a" stroke-width="0.55" />
<line x1="421.17400000000004" y1="105.8" x2="424.974" y2="105.8" stroke="#8a8a8a" stroke-width="0.55" />
<line x1="421.17400000000004" y1="115.8" x2="424.974" y2="115.8" stroke="#8a8a8a" stroke-width="0.55" />
<line x1="431.76099999999997" y1="104.0" x2="431.76099999999997" y2="115.0" stroke="#8a8a8a" stroke-width="0.55" />
<line x1="429.861" y1="104.0" x2="433.66099999999994" y2="104.0" stroke="#8a8a8a" stroke-width="0.55" />
<line x1="429.861" y1="115.0" x2="433.66099999999994" y2="115.0" stroke="#8a8a8a" stroke-width="0.55" />
<line x1="440.448" y1="102.3" x2="440.448" y2="114.3" stroke="#8a8a8a" stroke-width="0.55" />
<line x1="438.548" y1="102.3" x2="442.34799999999996" y2="102.3" stroke="#8a8a8a" stroke-width="0.55" />
<line x1="438.548" y1="114.3" x2="442.34799999999996" y2="114.3" stroke="#8a8a8a" stroke-width="0.55" />
<line x1="449.135" y1="100.2" x2="449.135" y2="114.2" stroke="#8a8a8a" stroke-width="0.55" />
<line x1="447.235" y1="100.2" x2="451.03499999999997" y2="100.2" stroke="#8a8a8a" stroke-width="0.55" />
<line x1="447.235" y1="114.2" x2="451.03499999999997" y2="114.2" stroke="#8a8a8a" stroke-width="0.55" />
<line x1="457.822" y1="93" x2="457.822" y2="113" stroke="#8a8a8a" stroke-width="0.55" />
<line x1="455.922" y1="93" x2="459.722" y2="93" stroke="#8a8a8a" stroke-width="0.55" />
<line x1="455.922" y1="113" x2="459.722" y2="113" stroke="#8a8a8a" stroke-width="0.55" />
<line x1="284.082" y1="124.70000000000002" x2="284.082" y2="131.9" stroke="#8a8a8a" stroke-width="0.55" />
<line x1="282.182" y1="124.70000000000002" x2="285.98199999999997" y2="124.70000000000002" stroke="#8a8a8a" stroke-width="0.55" />
<line x1="282.182" y1="131.9" x2="285.98199999999997" y2="131.9" stroke="#8a8a8a" stroke-width="0.55" />
<line x1="292.769" y1="124.2" x2="292.769" y2="131.4" stroke="#8a8a8a" stroke-width="0.55" />
<line x1="290.869" y1="124.2" x2="294.669" y2="124.2" stroke="#8a8a8a" stroke-width="0.55" />
<line x1="290.869" y1="131.4" x2="294.669" y2="131.4" stroke="#8a8a8a" stroke-width="0.55" />
<line x1="301.456" y1="123.7" x2="301.456" y2="130.9" stroke="#8a8a8a" stroke-width="0.55" />
<line x1="299.55600000000004" y1="123.7" x2="303.356" y2="123.7" stroke="#8a8a8a" stroke-width="0.55" />
<line x1="299.55600000000004" y1="130.9" x2="303.356" y2="130.9" stroke="#8a8a8a" stroke-width="0.55" />
<line x1="310.143" y1="122.7" x2="310.143" y2="129.9" stroke="#8a8a8a" stroke-width="0.55" />
<line x1="308.243" y1="122.7" x2="312.04299999999995" y2="122.7" stroke="#8a8a8a" stroke-width="0.55" />
<line x1="308.243" y1="129.9" x2="312.04299999999995" y2="129.9" stroke="#8a8a8a" stroke-width="0.55" />
<line x1="318.83" y1="121.89999999999999" x2="318.83" y2="128.7" stroke="#8a8a8a" stroke-width="0.55" />
<line x1="316.93" y1="121.89999999999999" x2="320.72999999999996" y2="121.89999999999999" stroke="#8a8a8a" stroke-width="0.55" />
<line x1="316.93" y1="128.7" x2="320.72999999999996" y2="128.7" stroke="#8a8a8a" stroke-width="0.55" />
<line x1="327.517" y1="119.89999999999999" x2="327.517" y2="126.7" stroke="#8a8a8a" stroke-width="0.55" />
<line x1="325.617" y1="119.89999999999999" x2="329.417" y2="119.89999999999999" stroke="#8a8a8a" stroke-width="0.55" />
<line x1="325.617" y1="126.7" x2="329.417" y2="126.7" stroke="#8a8a8a" stroke-width="0.55" />
<line x1="336.20399999999995" y1="118.89999999999999" x2="336.20399999999995" y2="125.7" stroke="#8a8a8a" stroke-width="0.55" />
<line x1="334.304" y1="118.89999999999999" x2="338.1039999999999" y2="118.89999999999999" stroke="#8a8a8a" stroke-width="0.55" />
<line x1="334.304" y1="125.7" x2="338.1039999999999" y2="125.7" stroke="#8a8a8a" stroke-width="0.55" />
<line x1="344.89099999999996" y1="118.1" x2="344.89099999999996" y2="124.9" stroke="#8a8a8a" stroke-width="0.55" />
<line x1="342.991" y1="118.1" x2="346.79099999999994" y2="118.1" stroke="#8a8a8a" stroke-width="0.55" />
<line x1="342.991" y1="124.9" x2="346.79099999999994" y2="124.9" stroke="#8a8a8a" stroke-width="0.55" />
<line x1="353.578" y1="116.89999999999999" x2="353.578" y2="123.7" stroke="#8a8a8a" stroke-width="0.55" />
<line x1="351.678" y1="116.89999999999999" x2="355.47799999999995" y2="116.89999999999999" stroke="#8a8a8a" stroke-width="0.55" />
<line x1="351.678" y1="123.7" x2="355.47799999999995" y2="123.7" stroke="#8a8a8a" stroke-width="0.55" />
<line x1="362.265" y1="115.89999999999999" x2="362.265" y2="122.7" stroke="#8a8a8a" stroke-width="0.55" />
<line x1="360.365" y1="115.89999999999999" x2="364.16499999999996" y2="115.89999999999999" stroke="#8a8a8a" stroke-width="0.55" />
<line x1="360.365" y1="122.7" x2="364.16499999999996" y2="122.7" stroke="#8a8a8a" stroke-width="0.55" />
<line x1="370.952" y1="114.3" x2="370.952" y2="121.10000000000001" stroke="#8a8a8a" stroke-width="0.55" />
<line x1="369.052" y1="114.3" x2="372.852" y2="114.3" stroke="#8a8a8a" stroke-width="0.55" />
<line x1="369.052" y1="121.10000000000001" x2="372.852" y2="121.10000000000001" stroke="#8a8a8a" stroke-width="0.55" />
<line x1="379.639" y1="113.10000000000001" x2="379.639" y2="120.3" stroke="#8a8a8a" stroke-width="0.55" />
<line x1="377.73900000000003" y1="113.10000000000001" x2="381.539" y2="113.10000000000001" stroke="#8a8a8a" stroke-width="0.55" />
<line x1="377.73900000000003" y1="120.3" x2="381.539" y2="120.3" stroke="#8a8a8a" stroke-width="0.55" />
<line x1="388.32599999999996" y1="111.9" x2="388.32599999999996" y2="119.5" stroke="#8a8a8a" stroke-width="0.55" />
<line x1="386.426" y1="111.9" x2="390.22599999999994" y2="111.9" stroke="#8a8a8a" stroke-width="0.55" />
<line x1="386.426" y1="119.5" x2="390.22599999999994" y2="119.5" stroke="#8a8a8a" stroke-width="0.55" />
<line x1="397.013" y1="110.5" x2="397.013" y2="118.5" stroke="#8a8a8a" stroke-width="0.55" />
<line x1="395.113" y1="110.5" x2="398.91299999999995" y2="110.5" stroke="#8a8a8a" stroke-width="0.55" />
<line x1="395.113" y1="118.5" x2="398.91299999999995" y2="118.5" stroke="#8a8a8a" stroke-width="0.55" />
<line x1="405.7" y1="108.3" x2="405.7" y2="117.3" stroke="#8a8a8a" stroke-width="0.55" />
<line x1="403.8" y1="108.3" x2="407.59999999999997" y2="108.3" stroke="#8a8a8a" stroke-width="0.55" />
<line x1="403.8" y1="117.3" x2="407.59999999999997" y2="117.3" stroke="#8a8a8a" stroke-width="0.55" />
<line x1="414.387" y1="105.9" x2="414.387" y2="115.9" stroke="#8a8a8a" stroke-width="0.55" />
<line x1="412.487" y1="105.9" x2="416.287" y2="105.9" stroke="#8a8a8a" stroke-width="0.55" />
<line x1="412.487" y1="115.9" x2="416.287" y2="115.9" stroke="#8a8a8a" stroke-width="0.55" />
<line x1="423.074" y1="104.2" x2="423.074" y2="115.2" stroke="#8a8a8a" stroke-width="0.55" />
<line x1="421.17400000000004" y1="104.2" x2="424.974" y2="104.2" stroke="#8a8a8a" stroke-width="0.55" />
<line x1="421.17400000000004" y1="115.2" x2="424.974" y2="115.2" stroke="#8a8a8a" stroke-width="0.55" />
<line x1="431.76099999999997" y1="102" x2="431.76099999999997" y2="114" stroke="#8a8a8a" stroke-width="0.55" />
<line x1="429.861" y1="102" x2="433.66099999999994" y2="102" stroke="#8a8a8a" stroke-width="0.55" />
<line x1="429.861" y1="114" x2="433.66099999999994" y2="114" stroke="#8a8a8a" stroke-width="0.55" />
<line x1="440.448" y1="99.5" x2="440.448" y2="111.5" stroke="#8a8a8a" stroke-width="0.55" />
<line x1="438.548" y1="99.5" x2="442.34799999999996" y2="99.5" stroke="#8a8a8a" stroke-width="0.55" />
<line x1="438.548" y1="111.5" x2="442.34799999999996" y2="111.5" stroke="#8a8a8a" stroke-width="0.55" />
<line x1="449.135" y1="95" x2="449.135" y2="109" stroke="#8a8a8a" stroke-width="0.55" />
<line x1="447.235" y1="95" x2="451.03499999999997" y2="95" stroke="#8a8a8a" stroke-width="0.55" />
<line x1="447.235" y1="109" x2="451.03499999999997" y2="109" stroke="#8a8a8a" stroke-width="0.55" />
<line x1="457.822" y1="90" x2="457.822" y2="108" stroke="#8a8a8a" stroke-width="0.55" />
<line x1="455.922" y1="90" x2="459.722" y2="90" stroke="#8a8a8a" stroke-width="0.55" />
<line x1="455.922" y1="108" x2="459.722" y2="108" stroke="#8a8a8a" stroke-width="0.55" />
<line x1="284.082" y1="183.1" x2="284.082" y2="211.1" stroke="#8a8a8a" stroke-width="0.55" />
<line x1="282.182" y1="183.1" x2="285.98199999999997" y2="183.1" stroke="#8a8a8a" stroke-width="0.55" />
<line x1="282.182" y1="211.1" x2="285.98199999999997" y2="211.1" stroke="#8a8a8a" stroke-width="0.55" />
<line x1="292.769" y1="178.9" x2="292.769" y2="206.9" stroke="#8a8a8a" stroke-width="0.55" />
<line x1="290.869" y1="178.9" x2="294.669" y2="178.9" stroke="#8a8a8a" stroke-width="0.55" />
<line x1="290.869" y1="206.9" x2="294.669" y2="206.9" stroke="#8a8a8a" stroke-width="0.55" />
<line x1="301.456" y1="173.9" x2="301.456" y2="203.9" stroke="#8a8a8a" stroke-width="0.55" />
<line x1="299.55600000000004" y1="173.9" x2="303.356" y2="173.9" stroke="#8a8a8a" stroke-width="0.55" />
<line x1="299.55600000000004" y1="203.9" x2="303.356" y2="203.9" stroke="#8a8a8a" stroke-width="0.55" />
<line x1="310.143" y1="168.5" x2="310.143" y2="202.5" stroke="#8a8a8a" stroke-width="0.55" />
<line x1="308.243" y1="168.5" x2="312.04299999999995" y2="168.5" stroke="#8a8a8a" stroke-width="0.55" />
<line x1="308.243" y1="202.5" x2="312.04299999999995" y2="202.5" stroke="#8a8a8a" stroke-width="0.55" />
<line x1="318.83" y1="167.1" x2="318.83" y2="197.1" stroke="#8a8a8a" stroke-width="0.55" />
<line x1="316.93" y1="167.1" x2="320.72999999999996" y2="167.1" stroke="#8a8a8a" stroke-width="0.55" />
<line x1="316.93" y1="197.1" x2="320.72999999999996" y2="197.1" stroke="#8a8a8a" stroke-width="0.55" />
<line x1="327.517" y1="161.2" x2="327.517" y2="192.2" stroke="#8a8a8a" stroke-width="0.55" />
<line x1="325.617" y1="161.2" x2="329.417" y2="161.2" stroke="#8a8a8a" stroke-width="0.55" />
<line x1="325.617" y1="192.2" x2="329.417" y2="192.2" stroke="#8a8a8a" stroke-width="0.55" />
<line x1="336.20399999999995" y1="160.1" x2="336.20399999999995" y2="187.1" stroke="#8a8a8a" stroke-width="0.55" />
<line x1="334.304" y1="160.1" x2="338.1039999999999" y2="160.1" stroke="#8a8a8a" stroke-width="0.55" />
<line x1="334.304" y1="187.1" x2="338.1039999999999" y2="187.1" stroke="#8a8a8a" stroke-width="0.55" />
<line x1="344.89099999999996" y1="156.2" x2="344.89099999999996" y2="180.2" stroke="#8a8a8a" stroke-width="0.55" />
<line x1="342.991" y1="156.2" x2="346.79099999999994" y2="156.2" stroke="#8a8a8a" stroke-width="0.55" />
<line x1="342.991" y1="180.2" x2="346.79099999999994" y2="180.2" stroke="#8a8a8a" stroke-width="0.55" />
<line x1="353.578" y1="152" x2="353.578" y2="176" stroke="#8a8a8a" stroke-width="0.55" />
<line x1="351.678" y1="152" x2="355.47799999999995" y2="152" stroke="#8a8a8a" stroke-width="0.55" />
<line x1="351.678" y1="176" x2="355.47799999999995" y2="176" stroke="#8a8a8a" stroke-width="0.55" />
<line x1="362.265" y1="148.6" x2="362.265" y2="168.6" stroke="#8a8a8a" stroke-width="0.55" />
<line x1="360.365" y1="148.6" x2="364.16499999999996" y2="148.6" stroke="#8a8a8a" stroke-width="0.55" />
<line x1="360.365" y1="168.6" x2="364.16499999999996" y2="168.6" stroke="#8a8a8a" stroke-width="0.55" />
<line x1="370.952" y1="143.2" x2="370.952" y2="163.2" stroke="#8a8a8a" stroke-width="0.55" />
<line x1="369.052" y1="143.2" x2="372.852" y2="143.2" stroke="#8a8a8a" stroke-width="0.55" />
<line x1="369.052" y1="163.2" x2="372.852" y2="163.2" stroke="#8a8a8a" stroke-width="0.55" />
<line x1="379.639" y1="138.8" x2="379.639" y2="156.8" stroke="#8a8a8a" stroke-width="0.55" />
<line x1="377.73900000000003" y1="138.8" x2="381.539" y2="138.8" stroke="#8a8a8a" stroke-width="0.55" />
<line x1="377.73900000000003" y1="156.8" x2="381.539" y2="156.8" stroke="#8a8a8a" stroke-width="0.55" />
<line x1="388.32599999999996" y1="135" x2="388.32599999999996" y2="151" stroke="#8a8a8a" stroke-width="0.55" />
<line x1="386.426" y1="135" x2="390.22599999999994" y2="135" stroke="#8a8a8a" stroke-width="0.55" />
<line x1="386.426" y1="151" x2="390.22599999999994" y2="151" stroke="#8a8a8a" stroke-width="0.55" />
<line x1="397.013" y1="130" x2="397.013" y2="144" stroke="#8a8a8a" stroke-width="0.55" />
<line x1="395.113" y1="130" x2="398.91299999999995" y2="130" stroke="#8a8a8a" stroke-width="0.55" />
<line x1="395.113" y1="144" x2="398.91299999999995" y2="144" stroke="#8a8a8a" stroke-width="0.55" />
<line x1="405.7" y1="125.80000000000001" x2="405.7" y2="137.8" stroke="#8a8a8a" stroke-width="0.55" />
<line x1="403.8" y1="125.80000000000001" x2="407.59999999999997" y2="125.80000000000001" stroke="#8a8a8a" stroke-width="0.55" />
<line x1="403.8" y1="137.8" x2="407.59999999999997" y2="137.8" stroke="#8a8a8a" stroke-width="0.55" />
<line x1="414.387" y1="120.8" x2="414.387" y2="130.8" stroke="#8a8a8a" stroke-width="0.55" />
<line x1="412.487" y1="120.8" x2="416.287" y2="120.8" stroke="#8a8a8a" stroke-width="0.55" />
<line x1="412.487" y1="130.8" x2="416.287" y2="130.8" stroke="#8a8a8a" stroke-width="0.55" />
<line x1="423.074" y1="115.9" x2="423.074" y2="124.9" stroke="#8a8a8a" stroke-width="0.55" />
<line x1="421.17400000000004" y1="115.9" x2="424.974" y2="115.9" stroke="#8a8a8a" stroke-width="0.55" />
<line x1="421.17400000000004" y1="124.9" x2="424.974" y2="124.9" stroke="#8a8a8a" stroke-width="0.55" />
<line x1="431.76099999999997" y1="111.7" x2="431.76099999999997" y2="119.7" stroke="#8a8a8a" stroke-width="0.55" />
<line x1="429.861" y1="111.7" x2="433.66099999999994" y2="111.7" stroke="#8a8a8a" stroke-width="0.55" />
<line x1="429.861" y1="119.7" x2="433.66099999999994" y2="119.7" stroke="#8a8a8a" stroke-width="0.55" />
<line x1="440.448" y1="107.4" x2="440.448" y2="115.4" stroke="#8a8a8a" stroke-width="0.55" />
<line x1="438.548" y1="107.4" x2="442.34799999999996" y2="107.4" stroke="#8a8a8a" stroke-width="0.55" />
<line x1="438.548" y1="115.4" x2="442.34799999999996" y2="115.4" stroke="#8a8a8a" stroke-width="0.55" />
<line x1="449.135" y1="97.9" x2="449.135" y2="107.9" stroke="#8a8a8a" stroke-width="0.55" />
<line x1="447.235" y1="97.9" x2="451.03499999999997" y2="97.9" stroke="#8a8a8a" stroke-width="0.55" />
<line x1="447.235" y1="107.9" x2="451.03499999999997" y2="107.9" stroke="#8a8a8a" stroke-width="0.55" />
<line x1="457.822" y1="91.8" x2="457.822" y2="103.8" stroke="#8a8a8a" stroke-width="0.55" />
<line x1="455.922" y1="91.8" x2="459.722" y2="91.8" stroke="#8a8a8a" stroke-width="0.55" />
<line x1="455.922" y1="103.8" x2="459.722" y2="103.8" stroke="#8a8a8a" stroke-width="0.55" />
<polygon points="281.2,136.0 287.0,136.0 284.1,141.3" fill="#ccc" stroke="#333" stroke-width="0.65"/>
<polygon points="289.9,134.3 295.7,134.3 292.8,139.6" fill="#fff" stroke="#333" stroke-width="0.65"/>
<polygon points="298.6,133.0 304.4,133.0 301.5,138.3" fill="#fff" stroke="#333" stroke-width="0.65"/>
<polygon points="307.2,131.7 313.0,131.7 310.1,137.0" fill="#fff" stroke="#333" stroke-width="0.65"/>
<polygon points="315.9,130.5 321.7,130.5 318.8,135.8" fill="#fff" stroke="#333" stroke-width="0.65"/>
<polygon points="324.6,128.7 330.4,128.7 327.5,134.0" fill="#fff" stroke="#333" stroke-width="0.65"/>
<polygon points="333.3,127.5 339.1,127.5 336.2,132.8" fill="#fff" stroke="#333" stroke-width="0.65"/>
<polygon points="342.0,125.5 347.8,125.5 344.9,130.8" fill="#fff" stroke="#333" stroke-width="0.65"/>
<polygon points="350.7,123.5 356.5,123.5 353.6,128.8" fill="#fff" stroke="#333" stroke-width="0.65"/>
<polygon points="359.4,121.0 365.2,121.0 362.3,126.3" fill="#fff" stroke="#333" stroke-width="0.65"/>
<polygon points="368.1,118.4 373.9,118.4 371.0,123.7" fill="#fff" stroke="#333" stroke-width="0.65"/>
<polygon points="376.7,117.2 382.5,117.2 379.6,122.5" fill="#fff" stroke="#333" stroke-width="0.65"/>
<polygon points="385.4,115.4 391.2,115.4 388.3,120.7" fill="#fff" stroke="#333" stroke-width="0.65"/>
<polygon points="394.1,113.9 399.9,113.9 397.0,119.2" fill="#fff" stroke="#333" stroke-width="0.65"/>
<polygon points="402.8,111.9 408.6,111.9 405.7,117.2" fill="#fff" stroke="#333" stroke-width="0.65"/>
<polygon points="411.5,110.0 417.3,110.0 414.4,115.3" fill="#fff" stroke="#333" stroke-width="0.65"/>
<polygon points="420.2,108.5 426.0,108.5 423.1,113.8" fill="#fff" stroke="#333" stroke-width="0.65"/>
<polygon points="428.9,107.2 434.7,107.2 431.8,112.5" fill="#fff" stroke="#333" stroke-width="0.65"/>
<polygon points="437.5,106.0 443.3,106.0 440.4,111.3" fill="#fff" stroke="#333" stroke-width="0.65"/>
<polygon points="446.2,104.9 452.0,104.9 449.1,110.2" fill="#fff" stroke="#333" stroke-width="0.65"/>
<polygon points="454.9,100.7 460.7,100.7 457.8,106.0" fill="#fff" stroke="#333" stroke-width="0.65"/>
<polygon points="280.8,130.8 287.4,130.8 284.1,125.2" fill="#000"/>
<polygon points="289.5,130.3 296.1,130.3 292.8,124.7" fill="#000"/>
<polygon points="298.2,129.8 304.8,129.8 301.5,124.2" fill="#000"/>
<polygon points="306.8,128.8 313.4,128.8 310.1,123.2" fill="#000"/>
<polygon points="315.5,127.8 322.1,127.8 318.8,122.2" fill="#000"/>
<polygon points="324.2,125.8 330.8,125.8 327.5,120.2" fill="#000"/>
<polygon points="332.9,124.8 339.5,124.8 336.2,119.2" fill="#000"/>
<polygon points="341.6,124.0 348.2,124.0 344.9,118.4" fill="#000"/>
<polygon points="350.3,122.8 356.9,122.8 353.6,117.2" fill="#000"/>
<polygon points="359.0,121.8 365.6,121.8 362.3,116.2" fill="#000"/>
<polygon points="367.7,120.2 374.3,120.2 371.0,114.6" fill="#000"/>
<polygon points="376.3,119.2 382.9,119.2 379.6,113.6" fill="#000"/>
<polygon points="385.0,118.2 391.6,118.2 388.3,112.6" fill="#000"/>
<polygon points="393.7,117.0 400.3,117.0 397.0,111.4" fill="#000"/>
<polygon points="402.4,115.3 409.0,115.3 405.7,109.7" fill="#000"/>
<polygon points="411.1,113.4 417.7,113.4 414.4,107.8" fill="#000"/>
<polygon points="419.8,112.2 426.4,112.2 423.1,106.6" fill="#000"/>
<polygon points="428.5,110.5 435.1,110.5 431.8,104.9" fill="#000"/>
<polygon points="437.1,108.0 443.7,108.0 440.4,102.4" fill="#000"/>
<polygon points="445.8,104.5 452.4,104.5 449.1,98.9" fill="#000"/>
<polygon points="454.5,101.5 461.1,101.5 457.8,95.9" fill="#000"/>
<circle cx="284.1" cy="197.1" r="2.7" fill="#000" stroke="none" stroke-width="0"/>
<circle cx="292.8" cy="192.9" r="2.7" fill="#000" stroke="none" stroke-width="0"/>
<circle cx="301.5" cy="188.9" r="2.7" fill="#000" stroke="none" stroke-width="0"/>
<circle cx="310.1" cy="185.5" r="2.7" fill="#000" stroke="none" stroke-width="0"/>
<circle cx="318.8" cy="182.1" r="2.7" fill="#000" stroke="none" stroke-width="0"/>
<circle cx="327.5" cy="176.7" r="2.7" fill="#000" stroke="none" stroke-width="0"/>
<circle cx="336.2" cy="173.6" r="2.7" fill="#000" stroke="none" stroke-width="0"/>
<circle cx="344.9" cy="168.2" r="2.7" fill="#000" stroke="none" stroke-width="0"/>
<circle cx="353.6" cy="164" r="2.7" fill="#000" stroke="none" stroke-width="0"/>
<circle cx="362.3" cy="158.6" r="2.7" fill="#000" stroke="none" stroke-width="0"/>
<circle cx="371.0" cy="153.2" r="2.7" fill="#000" stroke="none" stroke-width="0"/>
<circle cx="379.6" cy="147.8" r="2.7" fill="#000" stroke="none" stroke-width="0"/>
<circle cx="388.3" cy="143" r="2.7" fill="#000" stroke="none" stroke-width="0"/>
<circle cx="397.0" cy="137" r="2.7" fill="#000" stroke="none" stroke-width="0"/>
<circle cx="405.7" cy="131.8" r="2.7" fill="#000" stroke="none" stroke-width="0"/>
<circle cx="414.4" cy="125.8" r="2.7" fill="#000" stroke="none" stroke-width="0"/>
<circle cx="423.1" cy="120.4" r="2.7" fill="#000" stroke="none" stroke-width="0"/>
<circle cx="431.8" cy="115.7" r="2.7" fill="#000" stroke="none" stroke-width="0"/>
<circle cx="440.4" cy="111.4" r="2.7" fill="#000" stroke="none" stroke-width="0"/>
<circle cx="449.1" cy="102.9" r="2.7" fill="#000" stroke="none" stroke-width="0"/>
<circle cx="457.8" cy="97.8" r="2.7" fill="#000" stroke="none" stroke-width="0"/>
</svg>
</body></html>
